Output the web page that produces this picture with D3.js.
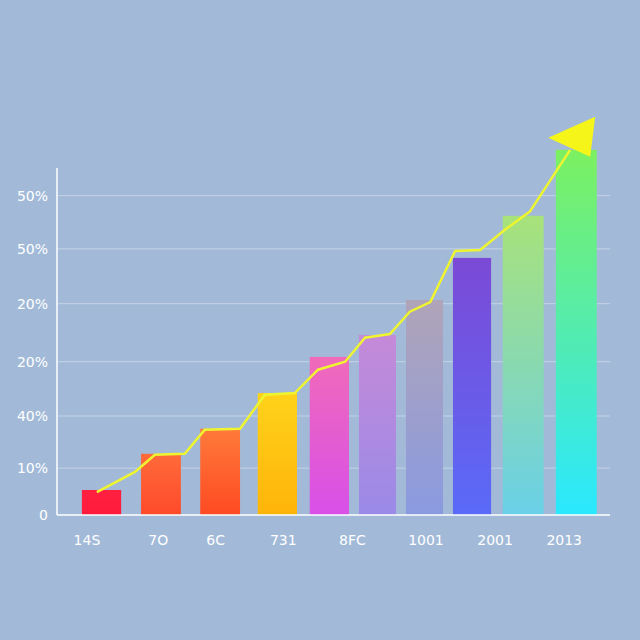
<!DOCTYPE html>
<html><head><meta charset="utf-8">
<script src="https://cdn.jsdelivr.net/npm/d3@7"></script>
<style>body{margin:0;background:#a2bad8}</style>
</head><body><div id="wrapper"></div>
<script>
// data
const barStart = [4.5, 15.2, 25.9, 36.3, 45.7, 54.6, 63.1, 71.6, 80.6, 90.2];
const barEnd   = [11.6, 22.4, 33.1, 43.4, 52.8, 61.3, 69.8, 78.5, 88.0, 97.6];
const barValues = [0.47, 1.15, 1.62, 2.29, 2.97, 3.38, 4.04, 4.83, 5.62, 6.86];
const topColors = ['#ff2040', '#ff6a3a', '#ff7a3a', '#ffd21a', '#f06aba', '#c58ad8', '#b0a4b8', '#7b4ad6', '#a8e27a', '#7cf060'];
const bottomColors = ['#ff1a3c', '#ff4a2a', '#ff4a22', '#ffb40a', '#d850e8', '#9a8ae8', '#8a9ae0', '#5a6af8', '#6ad0e8', '#2ae8ff'];
const lineX = [7.2, 14.1, 17.7, 23.1, 26.7, 33.1, 37.6, 43.0, 47.2, 52.1, 55.7, 60.2, 63.8, 67.5, 72.0, 76.5, 81.0, 85.5, 92.8];
const lineY = [0.43, 0.81, 1.13, 1.15, 1.60, 1.62, 2.26, 2.29, 2.73, 2.88, 3.33, 3.40, 3.82, 4.00, 4.96, 4.98, 5.36, 5.70, 6.86];
const tickValues = [0, 0.88, 1.86, 2.88, 3.97, 5.0, 6.0];
const tickLabels = ['0', '10%', '40%', '20%', '20%', '50%', '50%'];
const xLabelPos = [3, 16.5, 27, 38.5, 51, 63.5, 76, 88.5];
const xLabels = ['14S', '7O', '6C', '731', '8FC', '1001', '2001', '2013'];

const width = 640, height = 640;
const svg = d3.select('#wrapper').append('svg').attr('width', width).attr('height', height);
svg.append('rect').attr('width', width).attr('height', height).attr('fill', '#a2bad8');

const x = d3.scaleLinear().domain([0, 100]).range([57, 610]);
const y = d3.scaleLinear().domain([0, 6.5]).range([515, 169]);

// grid
svg.selectAll('.grid').data(tickValues.slice(1)).join('line')
    .attr('x1', x(0)).attr('x2', x(100))
    .attr('y1', d => y(d)).attr('y2', d => y(d))
    .attr('stroke', '#c4d3e6').attr('stroke-width', 1);

svg.selectAll('.ylab').data(tickValues).join('text')
    .attr('x', 48).attr('y', d => y(d) + 5)
    .attr('text-anchor', 'end')
    .attr('font-family', 'DejaVu Sans').attr('font-size', 14).attr('fill', '#ffffff')
    .text((d, i) => tickLabels[i]);

const defs = svg.append('defs');
barValues.forEach((v, i) => {
    const g = defs.append('linearGradient').attr('id', 'g' + i)
        .attr('x1', 0).attr('x2', 0).attr('y1', 0).attr('y2', 1);
    g.append('stop').attr('offset', '0%').attr('stop-color', topColors[i]);
    g.append('stop').attr('offset', '100%').attr('stop-color', bottomColors[i]);
});

svg.selectAll('.bar').data(barValues).join('rect')
    .attr('x', (d, i) => x(barStart[i]))
    .attr('width', (d, i) => x(barEnd[i]) - x(barStart[i]))
    .attr('y', d => y(d))
    .attr('height', d => y(0) - y(d))
    .attr('fill', (d, i) => `url(#g${i})`);

// axes
svg.append('line').attr('x1', x(0)).attr('x2', x(0)).attr('y1', 168).attr('y2', y(0))
    .attr('stroke', '#ffffff').attr('stroke-width', 1.5);
svg.append('line').attr('x1', x(0)).attr('x2', x(100)).attr('y1', y(0)).attr('y2', y(0))
    .attr('stroke', '#ffffff').attr('stroke-width', 1.5);

svg.selectAll('.xlab').data(xLabels).join('text')
    .attr('x', (d, i) => x(xLabelPos[i])).attr('y', 545)
    .attr('font-family', 'DejaVu Sans').attr('font-size', 14).attr('fill', '#ffffff')
    .text(d => d);

// trend line
const pts = lineX.map((d, i) => [x(d), y(lineY[i])]);
svg.append('path').datum(pts)
    .attr('d', d3.line())
    .attr('fill', 'none').attr('stroke', '#eef530').attr('stroke-width', 2.5);

// arrowhead
const tip = pts[pts.length - 1];
svg.append('path')
    .attr('d', `M${tip[0] - 22},${tip[1] - 12} L${tip[0] + 25},${tip[1] - 33} L${tip[0] + 20},${tip[1] + 7} Z`)
    .attr('fill', '#f6f51a');
</script>
</body></html>
